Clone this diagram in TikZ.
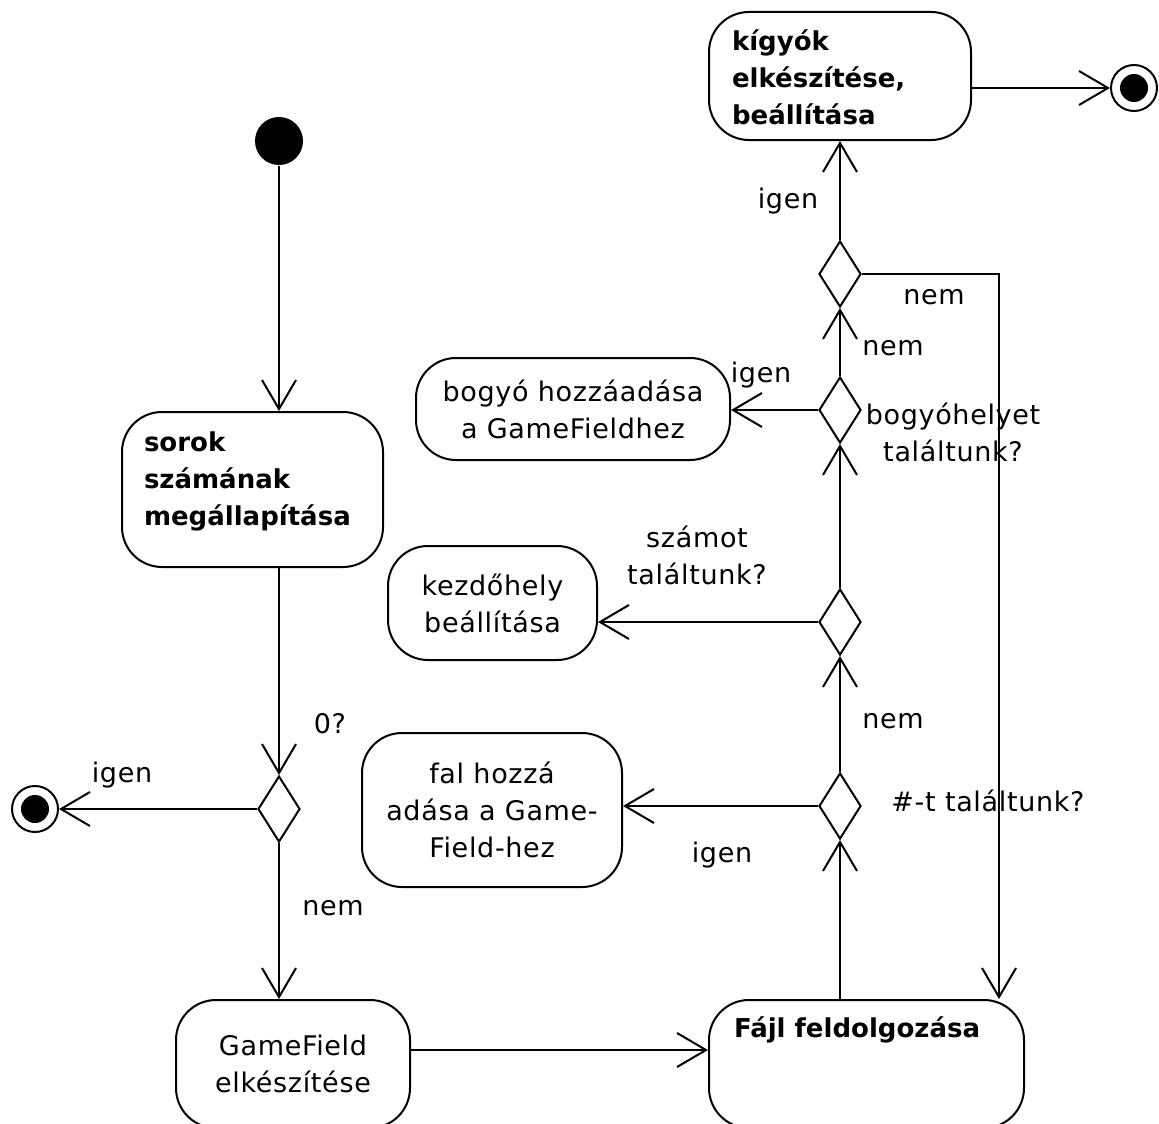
\documentclass[tikz,border=0pt]{standalone}
\usepackage{fontspec}
\setmainfont{DejaVu Sans}
\newfontfamily\plainfont[LetterSpace=2.5]{DejaVu Sans}
\usetikzlibrary{arrows.meta,shapes.geometric}
\begin{document}
\begin{tikzpicture}[x=1pt,y=-1pt,line width=2pt,
  every node/.style={font=\plainfont\fontsize{27pt}{37pt}\selectfont},
  act/.style={draw, rectangle, rounded corners=40pt, inner sep=0pt, align=center},
  choice/.style={draw, diamond, minimum width=42pt, minimum height=66pt, inner sep=0pt},
  flow/.style={-{Straight Barb[length=29pt,width=34pt]}},
  lbl/.style={inner sep=0pt, align=center},
  boldtxt/.style={inner sep=0pt, align=left, anchor=west,
    font=\normalfont\fontsize{26pt}{37pt}\selectfont\bfseries},
  startdot/.style={circle, fill, minimum size=48pt, inner sep=0pt},
  endring/.style={circle, draw, minimum size=46pt, inner sep=0pt},
  enddot/.style={circle, fill, minimum size=28pt, inner sep=0pt}]

\useasboundingbox (0,0) rectangle (1159,1124);
\clip (0,0) rectangle (1159,1124);

% initial and final states
\node[startdot] (start) at (279,141) {};
\node[endring] (end1) at (35,809) {};
\node[enddot] (end1c) at (35,809) {};
\node[endring] (end2) at (1134,88) {};
\node[enddot] (end2c) at (1134,88) {};

% activities
\node[act, minimum width=262pt, minimum height=128pt] (kigyo) at (840,76) {};
\node[boldtxt] (kigyotxt) at (731,77.5) {kígyók\\elkészítése,\\beállítása};

\node[act, minimum width=261pt, minimum height=155pt] (sorok) at (252.5,489.5) {};
\node[boldtxt] (soroktxt) at (143,481) {sorok\\számának\\megállapítása};

\node[act, minimum width=314pt, minimum height=102pt] (bogyo) at (573,409)
  {bogyó hozzáadása\\a GameFieldhez};
\node[act, minimum width=209pt, minimum height=114pt] (kezd) at (492.5,603)
  {kezdőhely\\beállítása};
\node[act, minimum width=260pt, minimum height=154pt] (fal) at (492,810)
  {fal hozzá\\adása a Game-\\Field-hez};
\node[act, minimum width=234pt, minimum height=128pt] (gf) at (293,1064)
  {GameField\\elkészítése};

\node[act, minimum width=315pt, minimum height=128pt] (fajl) at (866.5,1064) {};
\node[boldtxt] (fajltxt) at (733,1030) {Fájl feldolgozása};

% decisions
\node[choice] (D0) at (279,809) {};
\node[choice] (D1) at (840,806) {};
\node[choice] (D2) at (840,622) {};
\node[choice] (D3) at (840,410) {};
\node[choice] (D4) at (840,274) {};

% flows
\draw[flow] (start) -- (start |- sorok.north);
\draw[flow] (D0.north |- sorok.south) -- (D0.north);
\draw[flow] (D0.west) -- (end1);
\draw[flow] (D0.south) -- (D0.south |- gf.north);
\draw[flow] ([yshift=14pt]gf.east) -- ([yshift=14pt]fajl.west);
\draw[flow] (D1.south |- fajl.north) -- (D1.south);
\draw[flow] (D1.west) -- (D1.west -| fal.east);
\draw[flow] (D1.north) -- (D2.south);
\draw[flow] (D2.west) -- (D2.west -| kezd.east);
\draw[flow] (D2.north) -- (D3.south);
\draw[flow] (D3.west) -- (D3.west -| bogyo.east);
\draw[flow] (D3.north) -- (D4.south);
\draw[flow] (D4.north) -- (D4.north |- kigyo.south);
\draw[flow] (D4.east) -| ([xshift=-26pt]fajl.north east);
\draw[flow] (kigyo.east |- end2) -- (end2);

% guards and questions
\node[lbl] (q0) at (330,724) {0?};
\node[lbl] (y0) at (122,775) {igen};
\node[lbl] (n0) at (333,908) {nem};
\node[lbl] (q1) at (988,801) {\#-t találtunk?};
\node[lbl] (y1) at (722,855) {igen};
\node[lbl] (n1) at (893,721) {nem};
\node[lbl] (q2) at (697,555) {számot\\találtunk?};
\node[lbl] (q3) at (953,432) {bogyóhelyet\\találtunk?};
\node[lbl] (y3) at (761,375) {igen};
\node[lbl] (n3) at (893,348) {nem};
\node[lbl] (y4) at (788,201) {igen};
\node[lbl] (n4) at (934,297) {nem};
\end{tikzpicture}
\end{document}
